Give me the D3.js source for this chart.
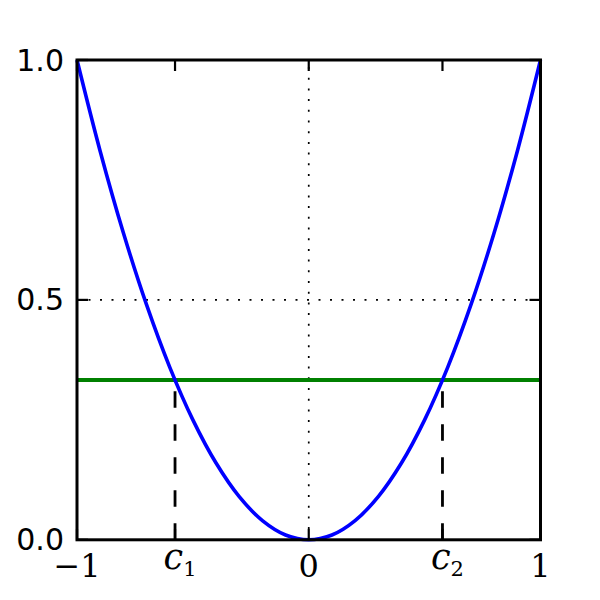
<!DOCTYPE html>
<html>
<head>
<meta charset="utf-8">
<script src="https://cdn.jsdelivr.net/npm/d3@7"></script>
<style>
  body { margin: 0; background: #fff; }
</style>
</head>
<body>
<div id="chart"></div>
<script>
// parabola with a horizontal cut and the two crossing points

// curve
const curveX = [-1, -0.9, -0.8, -0.7, -0.6, -0.5, -0.4, -0.3, -0.2, -0.1, 0, 0.1, 0.2, 0.3, 0.4, 0.5, 0.6, 0.7, 0.8, 0.9, 1];
const curveY = [1, 0.81, 0.64, 0.49, 0.36, 0.25, 0.16, 0.09, 0.04, 0.01, 0, 0.01, 0.04, 0.09, 0.16, 0.25, 0.36, 0.49, 0.64, 0.81, 1];

// horizontal level and where it hits the curve
const level = 0.333;
const crossX = [-0.577, 0.577];

// ticks
const xTicks = [-1, -0.577, 0, 0.577, 1];
const xTickLabels = ["\u22121", "c|1", "0", "c|2", "1"];
const yTicks = [0, 0.5, 1];
const yTickLabels = ["0.0", "0.5", "1.0"];

// dotted guide lines
const guideX = [0];
const guideY = [0.5];

const width = 600, height = 600;
const plotLeft = 77, plotRight = 540.5, plotTop = 60, plotBottom = 539.8;

const svg = d3.select("#chart").append("svg")
    .attr("width", width)
    .attr("height", height)
    .attr("viewBox", [0, 0, width, height]);

const x = d3.scaleLinear().domain([-1, 1]).range([plotLeft, plotRight]);
const y = d3.scaleLinear().domain([0, 1]).range([plotBottom, plotTop]);

// dotted lines at x=0 and y=0.5
svg.selectAll("line.gx")
    .data(guideX)
    .enter()
    .append("line")
    .attr("class", "gx")
    .attr("x1", d => x(d)).attr("x2", d => x(d))
    .attr("y1", y(0)).attr("y2", y(1))
    .attr("stroke", "#000")
    .attr("stroke-width", 1.7)
    .attr("stroke-dasharray", "2,8.7");

svg.selectAll("line.gy")
    .data(guideY)
    .enter()
    .append("line")
    .attr("class", "gy")
    .attr("x1", x(-1)).attr("x2", x(1))
    .attr("y1", d => y(d)).attr("y2", d => y(d))
    .attr("stroke", "#000")
    .attr("stroke-width", 1.7)
    .attr("stroke-dasharray", "2,9.5");

// dashed drops from the crossings down to the axis
svg.selectAll("line.drop")
    .data(crossX)
    .enter()
    .append("line")
    .attr("class", "drop")
    .attr("x1", d => x(d)).attr("x2", d => x(d))
    .attr("y1", y(0)).attr("y2", y(level))
    .attr("stroke", "#000")
    .attr("stroke-width", 2.8)
    .attr("stroke-dasharray", "16.5,16.5");

// green level line
svg.append("line")
    .attr("x1", x(-1)).attr("x2", x(1))
    .attr("y1", y(level)).attr("y2", y(level))
    .attr("stroke", "#008000")
    .attr("stroke-width", 4);

// blue curve
const pts = curveX.map((v, i) => [v, curveY[i]]);
const line = d3.line()
    .x(d => x(d[0]))
    .y(d => y(d[1]))
    .curve(d3.curveCatmullRom.alpha(0.5));

svg.append("path")
    .datum(pts)
    .attr("d", line)
    .attr("fill", "none")
    .attr("stroke", "#0000ff")
    .attr("stroke-width", 3.6);

// frame
svg.append("rect")
    .attr("x", plotLeft).attr("y", plotTop)
    .attr("width", plotRight - plotLeft).attr("height", plotBottom - plotTop)
    .attr("fill", "none")
    .attr("stroke", "#000")
    .attr("stroke-width", 3);

// inward ticks on all four sides
const tickLen = 11;
const tickG = svg.append("g").attr("stroke", "#000").attr("stroke-width", 2.2);
xTicks.forEach(t => {
    tickG.append("line").attr("x1", x(t)).attr("x2", x(t)).attr("y1", plotBottom).attr("y2", plotBottom - tickLen);
    tickG.append("line").attr("x1", x(t)).attr("x2", x(t)).attr("y1", plotTop).attr("y2", plotTop + tickLen);
});
yTicks.forEach(t => {
    tickG.append("line").attr("y1", y(t)).attr("y2", y(t)).attr("x1", plotLeft).attr("x2", plotLeft + tickLen);
    tickG.append("line").attr("y1", y(t)).attr("y2", y(t)).attr("x1", plotRight).attr("x2", plotRight - tickLen);
});

// y tick labels
svg.selectAll("text.ylab")
    .data(yTicks)
    .enter()
    .append("text")
    .attr("class", "ylab")
    .attr("x", plotLeft - 13)
    .attr("y", d => y(d) + 10.5)
    .attr("text-anchor", "end")
    .style("font-family", "'DejaVu Sans', sans-serif")
    .style("font-size", "30px")
    .text((d, i) => yTickLabels[i]);

// x tick labels (math style, serif)
xTicks.forEach((t, i) => {
    const lab = xTickLabels[i];
    const txt = svg.append("text")
        .attr("text-anchor", "middle")
        .style("font-family", "'DejaVu Serif', serif")
        .style("font-size", "32px");
    if (lab.indexOf("|") >= 0) {
        const parts = lab.split("|");
        txt.attr("x", x(t) + 5).attr("y", 569);
        txt.append("tspan").style("font-style", "italic").style("font-size", "35px").text(parts[0]);
        txt.append("tspan").attr("dy", 7).style("font-size", "21px").text(parts[1]);
    } else {
        txt.attr("x", x(t)).attr("y", 576.5).text(lab);
    }
});
</script>
</body>
</html>
